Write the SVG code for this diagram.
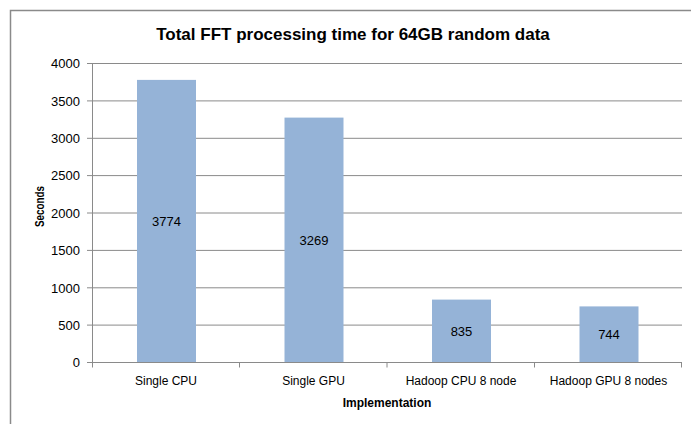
<svg xmlns="http://www.w3.org/2000/svg" width="691" height="424" viewBox="0 0 691 424">
<style>
.grid{stroke:#8a8a8a;stroke-width:1;fill:none}
.axis{stroke:#8a8a8a;stroke-width:1;fill:none}
.bar{fill:#95b3d7}
.t{font-family:"Liberation Sans",Arial,sans-serif;fill:#000}
.yl{font-size:13px;text-anchor:end}
.cl{font-size:12px;text-anchor:middle}
.dl{font-size:13px;text-anchor:middle}
.title{font-size:17px;font-weight:bold;text-anchor:middle}
.at{font-size:12px;font-weight:bold;text-anchor:middle}
</style>
<rect x="0" y="0" width="691" height="424" fill="#ffffff"/>
<path d="M10.5 424 V10.5 H691" stroke="#8a8a8a" stroke-width="1.5" fill="none"/>
<text class="t title" x="353" y="40">Total FFT processing time for 64GB random data</text>
<g id="gridlines">
<path class="grid" d="M92 63.5H682M92 100.9H682M92 138.3H682M92 175.6H682M92 213H682M92 250.4H682M92 287.8H682M92 325.1H682"/>
</g>
<g id="y-axis">
<path class="axis" d="M92.5 63.5V362.5M87 63.5H92M87 100.9H92M87 138.3H92M87 175.6H92M87 213H92M87 250.4H92M87 287.8H92M87 325.1H92M87 362.5H92"/>
<text class="t yl" x="80" y="68.2">4000</text>
<text class="t yl" x="80" y="105.6">3500</text>
<text class="t yl" x="80" y="143">3000</text>
<text class="t yl" x="80" y="180.3">2500</text>
<text class="t yl" x="80" y="217.7">2000</text>
<text class="t yl" x="80" y="255.1">1500</text>
<text class="t yl" x="80" y="292.5">1000</text>
<text class="t yl" x="80" y="329.8">500</text>
<text class="t yl" x="80" y="367.2">0</text>
<text class="t at" transform="translate(43.5 206.5) rotate(-90)" textLength="41" lengthAdjust="spacingAndGlyphs">Seconds</text>
</g>
<g id="bar-single-cpu">
<rect class="bar" x="137" y="79.9" width="59" height="282.1"/>
<text class="t dl" x="166.5" y="226">3774</text>
</g>
<g id="bar-single-gpu">
<rect class="bar" x="284.5" y="117.6" width="59" height="244.4"/>
<text class="t dl" x="314" y="244.5">3269</text>
</g>
<g id="bar-hadoop-cpu">
<rect class="bar" x="432" y="299.6" width="59" height="62.4"/>
<text class="t dl" x="461.5" y="335.5">835</text>
</g>
<g id="bar-hadoop-gpu">
<rect class="bar" x="579.5" y="306.4" width="59" height="55.6"/>
<text class="t dl" x="609" y="339">744</text>
</g>
<g id="x-axis">
<path class="axis" d="M92 362.5H682M92.5 362.5V367.5M239.5 362.5V367.5M387 362.5V367.5M534.5 362.5V367.5M681.5 362.5V367.5"/>
<text class="t cl" x="166" y="384.5">Single CPU</text>
<text class="t cl" x="313.5" y="384.5">Single GPU</text>
<text class="t cl" x="461" y="384.5">Hadoop CPU 8 node</text>
<text class="t cl" x="608.5" y="384.5">Hadoop GPU 8 nodes</text>
<text class="t at" x="387" y="406.7">Implementation</text>
</g>
</svg>
